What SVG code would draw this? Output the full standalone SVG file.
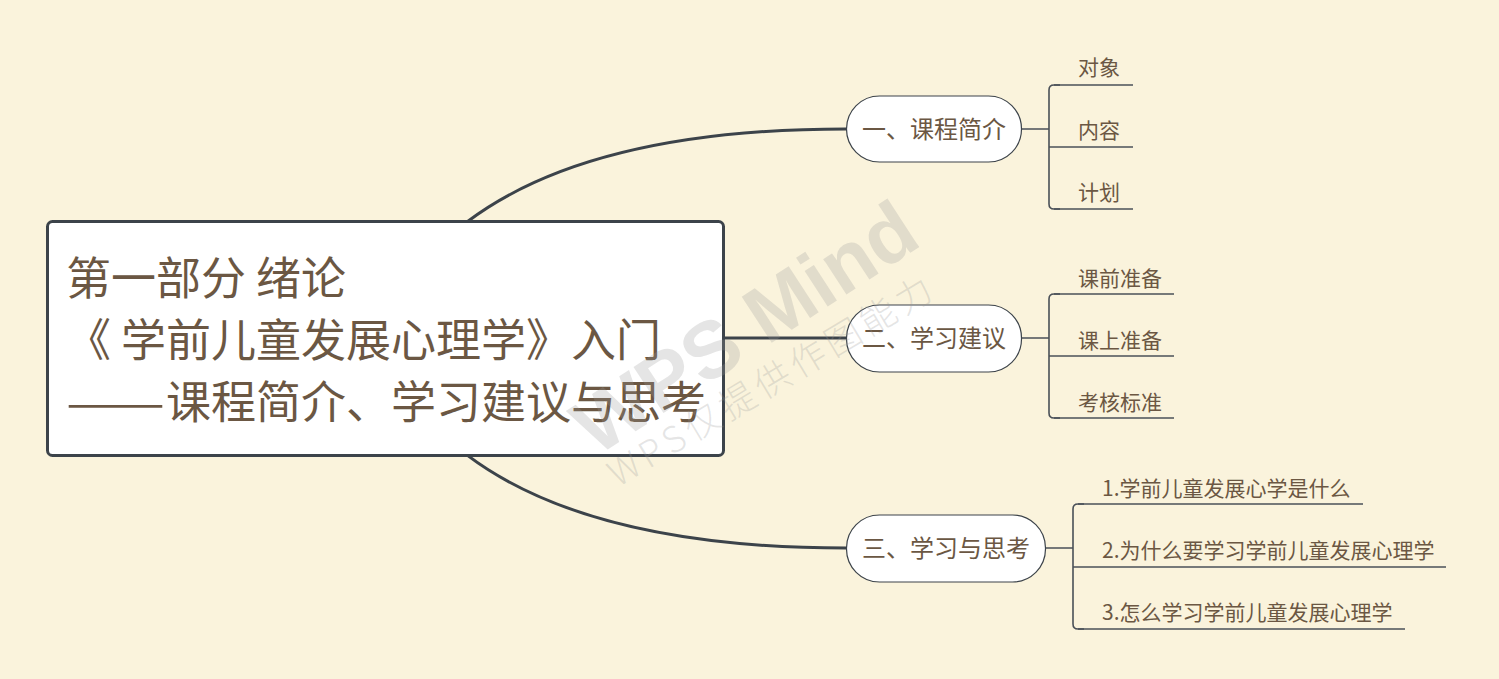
<svg xmlns="http://www.w3.org/2000/svg" width="1499" height="679" viewBox="0 0 1499 679">
  <style>
    .txt { font-family: "Noto Sans CJK SC", "Liberation Sans", sans-serif; fill: #6B5743; }
    .root-t { font-size: 45px; }
    .l1-t { font-size: 24px; text-anchor: middle; }
    .l2-t { font-size: 21px; }
    .conn { fill: none; stroke: #3C434A; stroke-width: 3; }
    .br { fill: none; stroke: #4A5058; stroke-width: 1.6; }
    .ul { fill: none; stroke: #4A5058; stroke-width: 1.6; }
    .pill { fill: #FFFFFF; stroke: #3C434A; stroke-width: 1.2; }
    .wm { font-family: "Liberation Sans", "Noto Sans CJK SC", sans-serif; fill: #999999; fill-opacity: 0.26; }
  </style>
  <rect x="0" y="0" width="1499" height="679" fill="#FAF3DC"/>

  <g id="connectors">
    <path class="conn" d="M 430 255 C 510 170 650 129 846 129"/>
    <path class="conn" d="M 724 338 H 846"/>
    <path class="conn" d="M 430 422 C 510 507 650 548 846 548"/>
    <path class="br" d="M 1022 129 H 1049 M 1060 85 H 1054 Q 1049 85 1049 90 V 204 Q 1049 209 1054 209 H 1060"/>
    <path class="br" d="M 1022 338 H 1049 M 1060 294 H 1054 Q 1049 294 1049 299 V 413 Q 1049 418 1054 418 H 1060"/>
    <path class="br" d="M 1046 548 H 1073 M 1084 504 H 1078 Q 1073 504 1073 509 V 624 Q 1073 629 1078 629 H 1084"/>
  </g>

  <g id="root">
    <rect x="47.5" y="221.5" width="676" height="234" rx="5" fill="#FFFFFF" stroke="#3C434A" stroke-width="3"/>
    <text class="txt root-t" x="66" y="295">第一部分 绪论</text>
    <text class="txt root-t" x="66" y="357">《 学前儿童发展心理学》入门</text>
    <text class="txt root-t" y="419"><tspan x="66" textLength="99" lengthAdjust="spacingAndGlyphs">——</tspan><tspan x="166">课程简介、学习建议与思考</tspan></text>
  </g>

  <g id="n1">
    <rect class="pill" x="846.5" y="96" width="175" height="66" rx="33"/>
    <text class="txt l1-t" x="934" y="137.5">一、课程简介</text>
  </g>
  <g id="n2">
    <rect class="pill" x="846.5" y="305" width="175" height="67" rx="33"/>
    <text class="txt l1-t" x="934" y="346.5">二、学习建议</text>
  </g>
  <g id="n3">
    <rect class="pill" x="846.5" y="515" width="199" height="67" rx="33"/>
    <text class="txt l1-t" x="946" y="556.5">三、学习与思考</text>
  </g>

  <g id="n1a"><path class="ul" d="M 1054 85 H 1133"/><text class="txt l2-t" x="1078" y="75">对象</text></g>
  <g id="n1b"><path class="ul" d="M 1049 147 H 1133"/><text class="txt l2-t" x="1078" y="137.5">内容</text></g>
  <g id="n1c"><path class="ul" d="M 1054 209 H 1133"/><text class="txt l2-t" x="1078" y="199.5">计划</text></g>

  <g id="n2a"><path class="ul" d="M 1054 294 H 1174"/><text class="txt l2-t" x="1078" y="285.5">课前准备</text></g>
  <g id="n2b"><path class="ul" d="M 1049 356 H 1174"/><text class="txt l2-t" x="1078" y="347.5">课上准备</text></g>
  <g id="n2c"><path class="ul" d="M 1054 418 H 1174"/><text class="txt l2-t" x="1078" y="409.5">考核标准</text></g>

  <g id="n3a"><path class="ul" d="M 1078 504 H 1363"/><text class="txt l2-t" x="1102" y="495.5">1.学前儿童发展心学是什么</text></g>
  <g id="n3b"><path class="ul" d="M 1073 567 H 1446"/><text class="txt l2-t" x="1102" y="557.5">2.为什么要学习学前儿童发展心理学</text></g>
  <g id="n3c"><path class="ul" d="M 1078 629 H 1405"/><text class="txt l2-t" x="1102" y="619.5">3.怎么学习学前儿童发展心理学</text></g>

  <g id="watermark">
    <text class="wm" transform="translate(745,328) rotate(-33)" x="0" y="27" text-anchor="middle" font-size="80" font-weight="bold">WPS Mind</text>
    <text class="wm" transform="translate(772,380) rotate(-31)" x="0" y="13" text-anchor="middle" font-size="36" font-weight="300" letter-spacing="5" style="font-family: 'Noto Sans CJK SC', sans-serif;">WPS仅提供作图能力</text>
  </g>
</svg>
